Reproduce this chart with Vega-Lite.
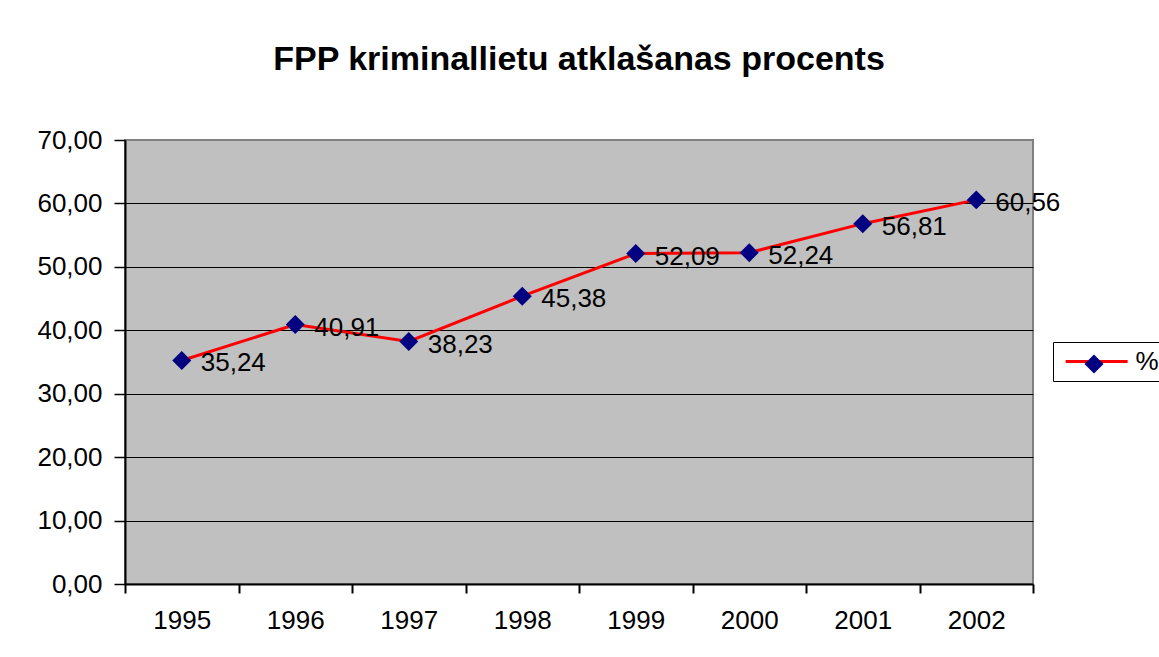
{
  "$schema": "https://vega.github.io/schema/vega-lite/v6.json",
  "width": 908,
  "height": 444,
  "autosize": {"type": "none"},
  "padding": {"left": 125, "top": 140, "right": 126, "bottom": 73},
  "background": "white",
  "title": {
    "text": "FPP kriminallietu atklašanas procents",
    "font": "Liberation Sans",
    "fontSize": 34,
    "fontWeight": "bold",
    "color": "black",
    "anchor": "middle",
    "frame": "group",
    "baseline": "alphabetic",
    "offset": 23
  },
  "data": {
    "values": [
      {"year": "1995", "v": 35.24, "series": "%", "marker": "diamond"},
      {"year": "1996", "v": 40.91, "series": "%", "marker": "diamond"},
      {"year": "1997", "v": 38.23, "series": "%", "marker": "diamond"},
      {"year": "1998", "v": 45.38, "series": "%", "marker": "diamond"},
      {"year": "1999", "v": 52.09, "series": "%", "marker": "diamond"},
      {"year": "2000", "v": 52.24, "series": "%", "marker": "diamond"},
      {"year": "2001", "v": 56.81, "series": "%", "marker": "diamond"},
      {"year": "2002", "v": 60.56, "series": "%", "marker": "diamond"}
    ]
  },
  "encoding": {
    "x": {
      "field": "year",
      "type": "nominal",
      "sort": null,
      "scale": {"type": "band", "paddingInner": 0, "paddingOuter": 0},
      "axis": {
        "title": null,
        "labelAngle": 0,
        "tickBand": "extent",
        "grid": false,
        "domainColor": "black",
        "domainWidth": 2,
        "tickColor": "black",
        "tickWidth": 2,
        "tickSize": 9,
        "labelPadding": 14,
        "labelFont": "Liberation Sans",
        "labelFontSize": 26,
        "labelColor": "black"
      }
    },
    "y": {
      "field": "v",
      "type": "quantitative",
      "scale": {"domain": [0, 70], "nice": false, "zero": true},
      "axis": {
        "title": null,
        "values": [0, 10, 20, 30, 40, 50, 60, 70],
        "format": ".2f",
        "grid": true,
        "gridColor": {"condition": {"test": "datum.value === 70 || datum.value === 0", "value": "transparent"}, "value": "black"},
        "gridWidth": 1,
        "domainColor": "black",
        "domainWidth": 2,
        "tickColor": "black",
        "tickWidth": 1.5,
        "tickSize": 11,
        "labelPadding": 12,
        "labelFont": "Liberation Sans",
        "labelFontSize": 26,
        "labelColor": "black"
      }
    }
  },
  "layer": [
    {
      "mark": {"type": "line", "strokeWidth": 3},
      "encoding": {
        "color": {
          "field": "series",
          "type": "nominal",
          "scale": {"range": ["#FF0000"]},
          "legend": {
            "orient": "none",
            "legendX": 928,
            "legendY": 202,
            "title": null,
            "symbolType": "M-0.66,0L5.32,0",
            "symbolSize": 430,
            "symbolStrokeWidth": 3,
            "strokeColor": "black",
            "fillColor": "white",
            "padding": 6.5,
            "labelFont": "Liberation Sans",
            "labelFontSize": 26,
            "labelColor": "black",
            "labelOffset": 50
          }
        }
      }
    },
    {
      "mark": {"type": "point", "shape": "diamond", "filled": true, "size": 360, "opacity": 1, "strokeWidth": 0},
      "encoding": {
        "fill": {
          "field": "marker",
          "type": "nominal",
          "scale": {"range": ["#000080"]},
          "legend": {
            "orient": "none",
            "legendX": 959.5,
            "legendY": 214.5,
            "title": null,
            "symbolType": "diamond",
            "symbolSize": 360,
            "symbolStrokeWidth": 0,
            "symbolOpacity": 1,
            "padding": 0,
            "labelExpr": "''",
            "labelFontSize": 1,
            "labelOffset": 0
          }
        }
      }
    },
    {
      "mark": {"type": "text", "align": "left", "baseline": "middle", "dx": 19, "dy": 3, "font": "Liberation Sans", "fontSize": 26, "color": "black"},
      "encoding": {
        "text": {"field": "v", "type": "quantitative", "format": ".2f"}
      }
    }
  ],
  "config": {
    "locale": {"number": {"decimal": ",", "thousands": " ", "grouping": [3], "currency": ["", ""]}},
    "view": {"fill": "#C0C0C0", "stroke": "#808080", "strokeWidth": 2}
  }
}
